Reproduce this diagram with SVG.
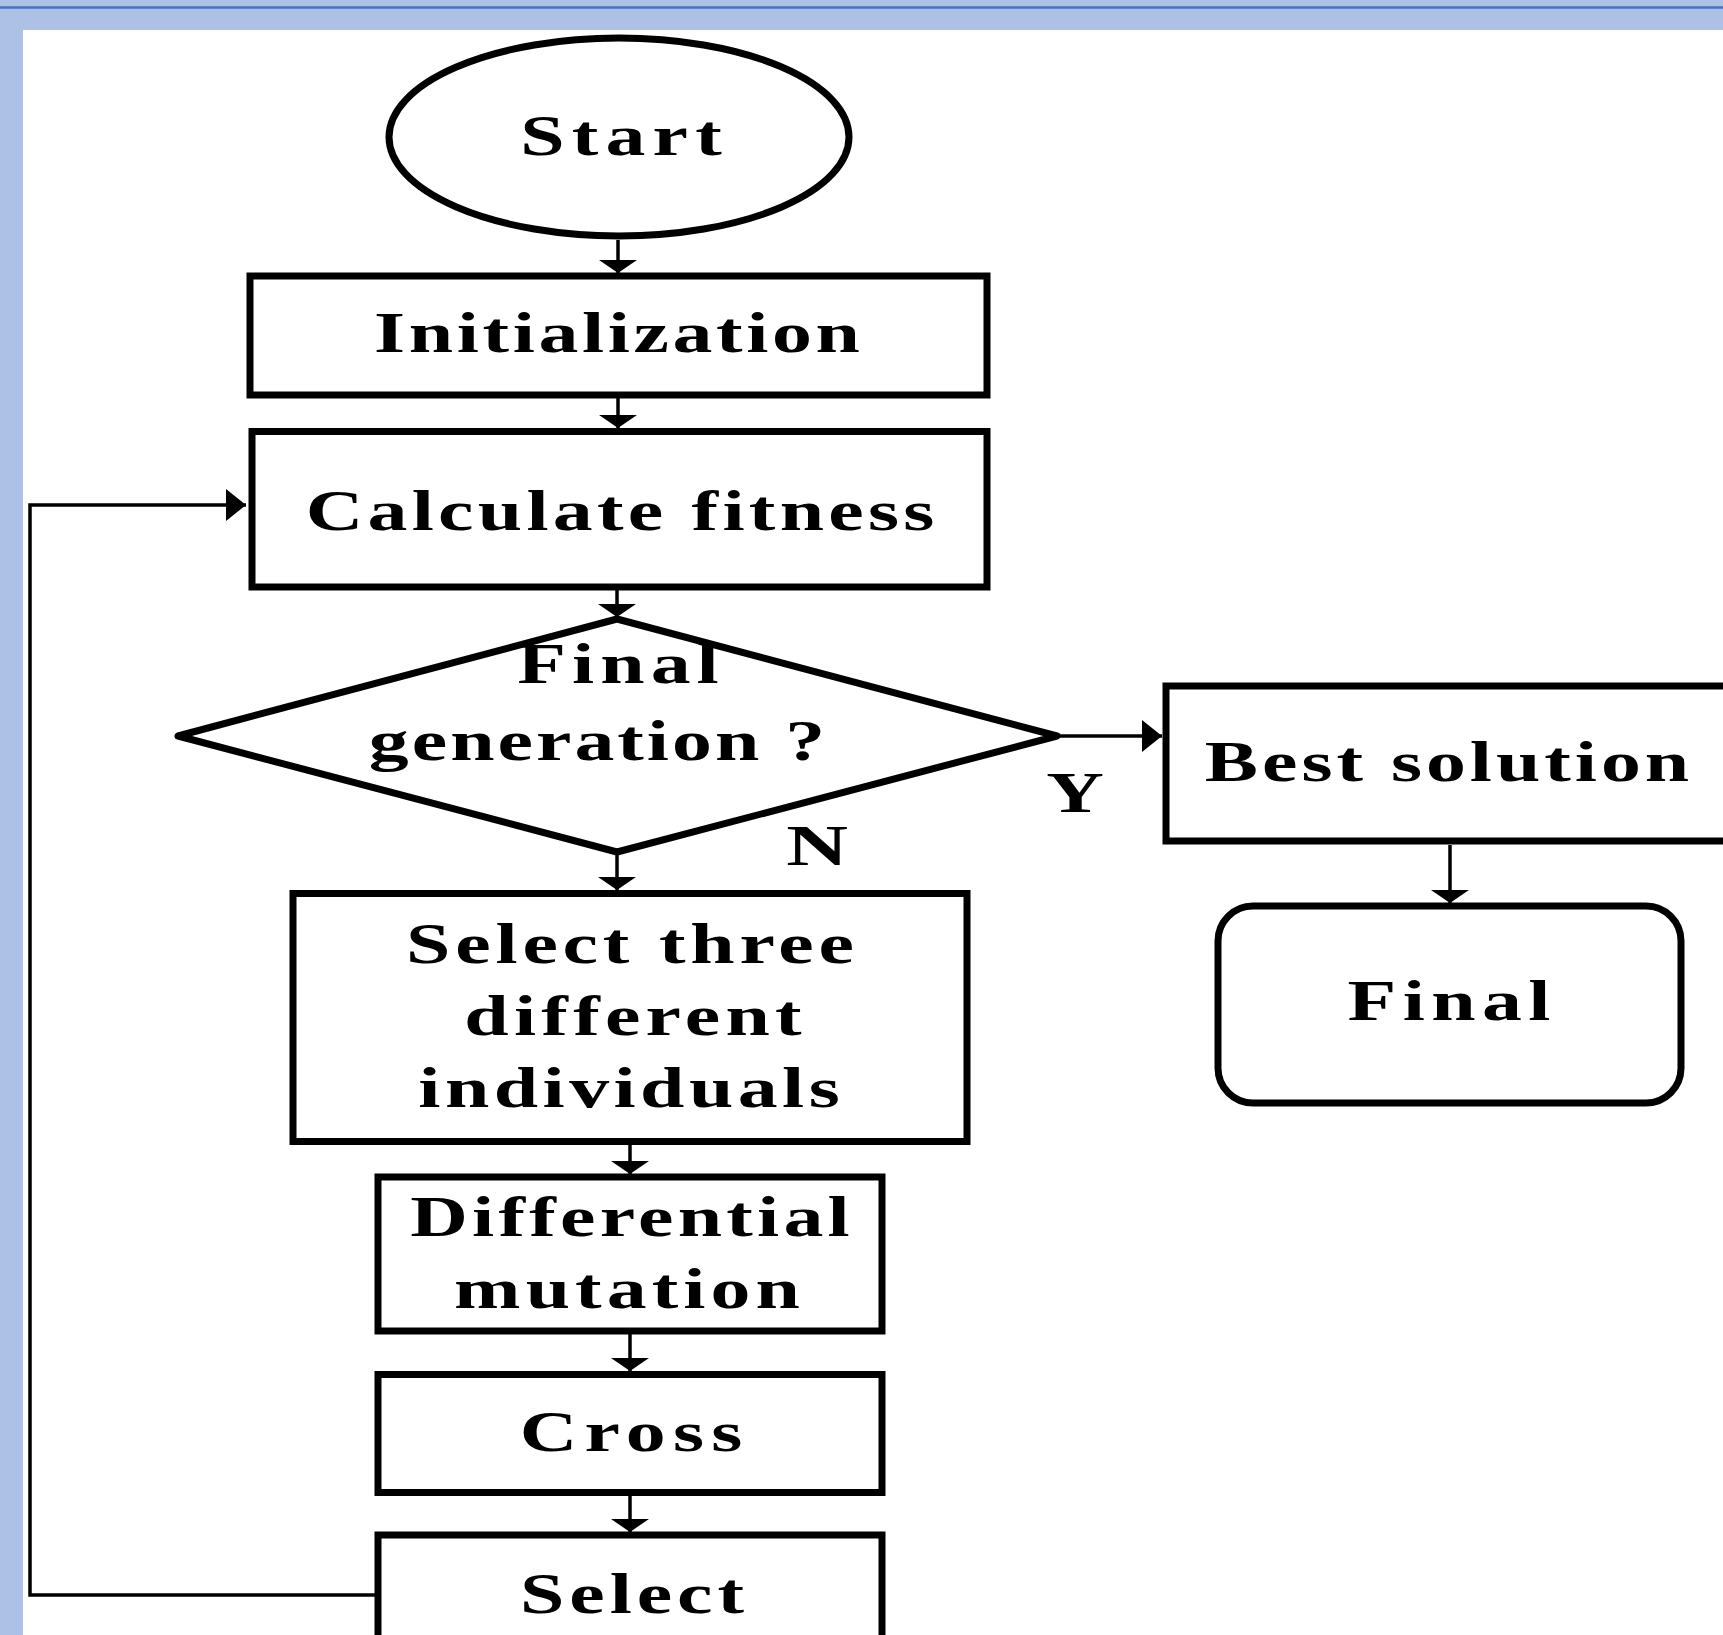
<svg xmlns="http://www.w3.org/2000/svg" width="1723" height="1635" viewBox="0 0 1723 1635">
<style>
.bg{fill:#ffffff}
.band{fill:#adc1e7}
.box{fill:#ffffff;stroke:#000000;stroke-width:7}
.dia{fill:#ffffff;stroke:#000000;stroke-width:7;stroke-linejoin:round}
.t{font-family:"Liberation Serif","Times New Roman",serif;font-weight:bold;font-size:57px;fill:#000000;text-anchor:middle}
.c{fill:none;stroke:#000000;stroke-width:3.5}
</style>
<defs>
<marker id="av" markerUnits="userSpaceOnUse" viewBox="0 -20 14 40" refX="13" refY="0" markerWidth="14" markerHeight="40" orient="auto">
<path d="M0,-19 L13,0 L0,19 Z" fill="#000000"/>
</marker>
<marker id="ah" markerUnits="userSpaceOnUse" viewBox="0 -17 21 34" refX="20" refY="0" markerWidth="21" markerHeight="34" orient="auto">
<path d="M0,-16 L20,0 L0,16 Z" fill="#000000"/>
</marker>
</defs>
<rect class="bg" x="0" y="0" width="1723" height="1635"/>
<rect class="band" x="0" y="0" width="1723" height="30"/>
<rect class="band" x="0" y="0" width="23" height="1635"/>
<line x1="0" y1="7.5" x2="1723" y2="7.5" stroke="#4472c4" stroke-width="2.5"/>

<g id="connectors">
<line class="c" x1="618" y1="240" x2="618" y2="273" marker-end="url(#av)"/>
<line class="c" x1="618" y1="398" x2="618" y2="428" marker-end="url(#av)"/>
<line class="c" x1="617" y1="590" x2="617" y2="617" marker-end="url(#av)"/>
<line class="c" x1="617" y1="855" x2="617" y2="890" marker-end="url(#av)"/>
<line class="c" x1="630" y1="1145" x2="630" y2="1174" marker-end="url(#av)"/>
<line class="c" x1="630" y1="1334" x2="630" y2="1371" marker-end="url(#av)"/>
<line class="c" x1="630" y1="1496" x2="630" y2="1532" marker-end="url(#av)"/>
<line class="c" x1="1058" y1="736" x2="1162" y2="736" marker-end="url(#ah)"/>
<line class="c" x1="1450" y1="845" x2="1450" y2="903" marker-end="url(#av)"/>
<polyline class="c" points="378,1595 30,1595 30,505 246,505" marker-end="url(#ah)"/>
</g>

<g id="start">
<ellipse class="box" cx="619" cy="137" rx="230" ry="99"/>
<text class="t" transform="translate(621 155) scale(1.4 1)" textLength="144" lengthAdjust="spacing">Start</text>
</g>
<g id="init">
<rect class="box" x="250" y="276" width="737" height="119"/>
<text class="t" transform="translate(617 352) scale(1.4 1)" textLength="347" lengthAdjust="spacing">Initialization</text>
</g>
<g id="fitness">
<rect class="box" x="252" y="431.5" width="735" height="155.5"/>
<text class="t" transform="translate(620 530) scale(1.4 1)" textLength="449" lengthAdjust="spacing">Calculate fitness</text>
</g>
<g id="decision">
<polygon class="dia" points="617,619 1057,736 617,852 178,736"/>
<text class="t" transform="translate(618 683) scale(1.4 1)" textLength="144" lengthAdjust="spacing">Final</text>
<text class="t" transform="translate(597 760) scale(1.4 1)" textLength="326" lengthAdjust="spacing">generation ?</text>
</g>
<g id="label-y">
<text class="t" transform="translate(1075 812) scale(1.4 1)">Y</text>
</g>
<g id="label-n">
<text class="t" transform="translate(817 865) scale(1.5 1)">N</text>
</g>
<g id="best">
<rect class="box" x="1166" y="686" width="700" height="155"/>
<text class="t" transform="translate(1447 781) scale(1.4 1)" textLength="346" lengthAdjust="spacing">Best solution</text>
</g>
<g id="final">
<rect class="box" x="1218" y="906" width="463" height="197" rx="35" ry="35"/>
<text class="t" transform="translate(1449 1020) scale(1.4 1)" textLength="145" lengthAdjust="spacing">Final</text>
</g>
<g id="select-three">
<rect class="box" x="293" y="893.5" width="674" height="248"/>
<text class="t" transform="translate(630 963) scale(1.4 1)" textLength="320" lengthAdjust="spacing">Select three</text>
<text class="t" transform="translate(633 1035) scale(1.4 1)" textLength="241" lengthAdjust="spacing">different</text>
<text class="t" transform="translate(629 1107) scale(1.4 1)" textLength="301" lengthAdjust="spacing">individuals</text>
</g>
<g id="mutation">
<rect class="box" x="378" y="1177" width="504" height="154"/>
<text class="t" transform="translate(630 1236) scale(1.4 1)" textLength="314" lengthAdjust="spacing">Differential</text>
<text class="t" transform="translate(627 1308) scale(1.4 1)" textLength="247" lengthAdjust="spacing">mutation</text>
</g>
<g id="cross">
<rect class="box" x="378" y="1374.5" width="504" height="118"/>
<text class="t" transform="translate(631 1451) scale(1.4 1)" textLength="159" lengthAdjust="spacing">Cross</text>
</g>
<g id="select">
<rect class="box" x="378" y="1535" width="504" height="200"/>
<text class="t" transform="translate(632 1613) scale(1.4 1)" textLength="160" lengthAdjust="spacing">Select</text>
</g>
</svg>
